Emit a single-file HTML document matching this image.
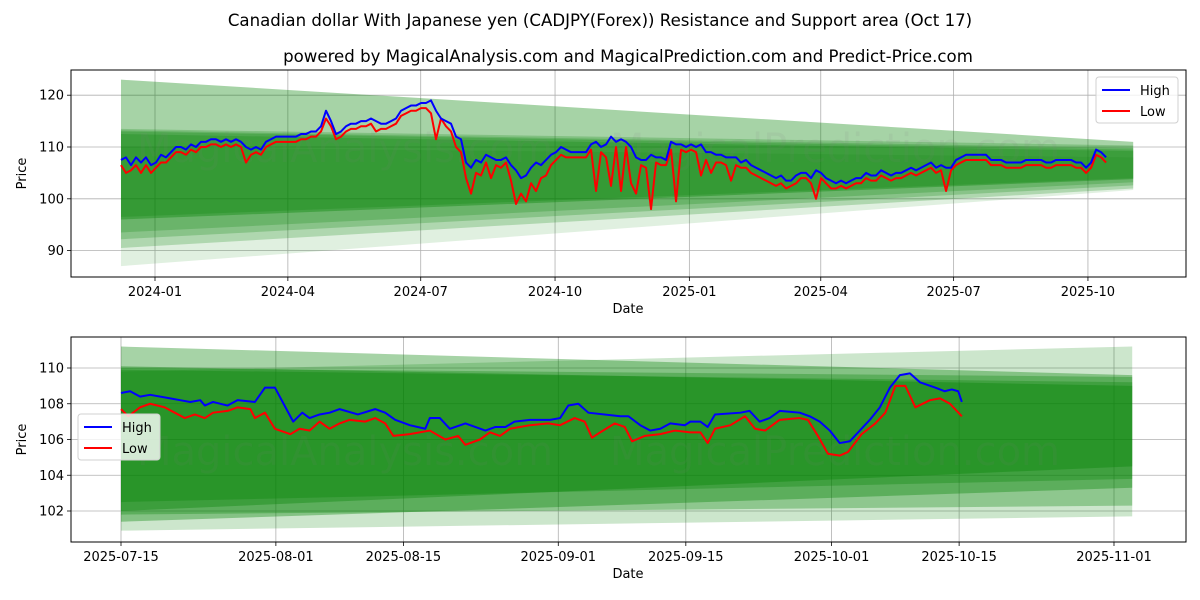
<!DOCTYPE html>
<html><head><meta charset="utf-8">
<style>
html,body{margin:0;padding:0;background:#fff;}
svg{display:block;font-family:"DejaVu Sans","Liberation Sans",sans-serif;}
</style></head>
<body>
<svg id="chart" width="1200" height="600" viewBox="0 0 1200 600" xmlns="http://www.w3.org/2000/svg">
<text x="600" y="26" font-size="16.6" text-anchor="middle">Canadian dollar With Japanese yen (CADJPY(Forex)) Resistance and Support area (Oct 17)</text>
<text x="628" y="62" font-size="16.6" text-anchor="middle">powered by MagicalAnalysis.com and MagicalPrediction.com and Predict-Price.com</text>
<g id="top"></g>
<g id="bot"></g>
</svg>
<script>
// ---------- TOP PANEL DATA ----------
const topStartDay = -23.3;   // days from 2024-01-01 of first sample
const topStepDays = 3.425;   // sampling interval in days
const topHigh = [
107.5,108,106.5,108,107,108,106.5,107,108.5,108,
109,110,110,109.5,110.5,110,111,111,111.5,111.5,
111,111.5,111,111.5,111,110,109.5,110,109.5,111,
111.5,112,112,112,112,112,112.5,112.5,113,113,
114,117,115,112.5,113,114,114.5,114.5,115,115,
115.5,115,114.5,114.5,115,115.5,117,117.5,118,118,
118.5,118.5,119,117,115.5,115,114.5,112,111.5,107,
106,107.5,107,108.5,108,107.5,107.5,108,106.5,105.5,
104,104.5,106,107,106.5,107.5,108.5,109,110,109.5,
109,109,109,109,110.5,111,110,110.5,112,111,
111.5,111,110,108,107.5,107.5,108.5,108,108,107.5,
111,110.5,110.5,110,110.5,110,110.5,109,109,108.5,
108.5,108,108,108,107,107.5,106.5,106,105.5,105,
104.5,104,104.5,103.5,103.5,104.5,105,105,104,105.5,
105,104,103.5,103,103.5,103,103.5,104,104,105,
104.5,104.5,105.5,105,104.5,105,105,105.5,106,105.5,
106,106.5,107,106,106.5,106,106,107.5,108,108.5,
108.5,108.5,108.5,108.5,107.5,107.5,107.5,107,107,107,
107,107.5,107.5,107.5,107.5,107,107,107.5,107.5,107.5,
107.5,107,107,106,107,109.5,109,108];
const topLow = [
106.5,105,105.5,106.5,105,106.5,105,106,107,107,
108,109,109,108.5,109.5,109,110,110,110.5,110.5,
110,110.5,110,110.5,110,107,108.5,109,108.5,110,
110.5,111,111,111,111,111,111.5,111.5,112,112,
113,115.5,114,111.5,112,113,113.5,113.5,114,114,
114.5,113,113.5,113.5,114,114.5,116,116.5,117,117,
117.5,117.5,116.5,111.5,115.5,114,113,110,109,104,
101,105,104.5,107,104,106.5,106,107,103.5,99,
101,99.5,103,101.5,104,104.5,106.5,107.5,108.5,108,
108,108,108,108,109.5,101.5,109,108,102.5,110,
101.5,110,103,101,106.5,106,98,107,106.5,106.5,
109.5,99.5,109.5,109,109.5,109,104.5,107.5,105,107,
107,106.5,103.5,106.5,106,106,105,104.5,104,103.5,
103,102.5,103,102,102.5,103,104,104,103,100,
104,103,102,102,102.5,102,102.5,103,103,104,
103.5,103.5,104.5,104,103.5,104,104,104.5,105,104.5,
105,105.5,106,105,105.5,101.5,105.5,106.5,107,107.5,
107.5,107.5,107.5,107.5,106.5,106.5,106.5,106,106,106,
106,106.5,106.5,106.5,106.5,106,106,106.5,106.5,106.5,
106.5,106,106,105,106,108.5,108,107];
const topBandStartDay = -23.3, topBandEndDay = 670;
const topBandTopStart = [123, 110, 113.5, 113.2, 113, 112.5];
const topBandTopEnd   = [111, 108, 110.3, 109.8, 109.5, 109.2];
const topBandBotStart = [96, 87, 90.5, 92.2, 93.5, 96.5];
const topBandBotEnd   = [103.8, 101.7, 102, 102.6, 103.2, 104];
const topBandAlpha    = [0.35, 0.12, 0.22, 0.22, 0.22, 0.22];
const topYTicks = [90, 100, 110, 120];
const topXTickDays = [0, 91, 182, 274, 366, 456, 547, 639];
const topXTickLabels = ["2024-01","2024-04","2024-07","2024-10","2025-01","2025-04","2025-07","2025-10"];

// ---------- BOTTOM PANEL DATA ----------
const botHighDays = [0,1,2.1,3.2,5.4,6.5,7.6,8.7,9.2,10.1,11.7,12.8,14.7,15.8,16.9,18.9,19.9,20.7,21.8,22.9,24,26,27.9,29,30.1,31.7,33.4,33.9,35,36.1,37.8,40,41.1,42.2,43.2,44.9,47.1,48.2,49.1,50.2,51.3,54.8,55.7,57,58.1,59.2,60.3,61.9,62.5,63.6,64.4,65.2,68,69,70.1,71.2,72.3,74.5,75.6,76.7,77.8,78.9,80,82.2,83.3,84.4,85.5,86.6,87.7,89.4,90.4,91.2,91.9,92.3];
const botHigh = [108.6,108.7,108.4,108.5,108.3,108.2,108.1,108.2,107.9,108.1,107.9,108.2,108.1,108.9,108.9,107.0,107.5,107.2,107.4,107.5,107.7,107.4,107.7,107.5,107.1,106.8,106.6,107.2,107.2,106.6,106.9,106.5,106.7,106.7,107.0,107.1,107.1,107.2,107.9,108.0,107.5,107.3,107.3,106.8,106.5,106.6,106.9,106.8,107.0,107.0,106.7,107.4,107.5,107.6,107.0,107.2,107.6,107.5,107.3,107.0,106.5,105.8,105.9,107.1,107.8,108.9,109.6,109.7,109.2,108.9,108.7,108.8,108.7,108.1];
const botLowDays = [0,0.8,2.1,3.2,4.8,5.9,7,8.1,9.2,10.1,11.7,12.8,14.2,14.7,15.8,16.9,18.6,19.6,20.7,21.8,22.9,24,25.1,26.8,27.9,29,29.9,31.7,33.9,35.6,37,37.8,39.4,40.5,41.6,42.7,44.9,46.9,48.2,49.8,50.9,51.7,52.6,54.2,55.3,56.1,57.5,59.2,60.8,62.5,63.6,64.4,65.2,66.9,68.5,69.6,70.7,72.3,74.5,75.4,76.5,77.6,78.9,79.8,81.3,82.8,83.9,85,86.1,87.2,88.8,89.9,91,92.3];
const botLow = [107.7,107.3,107.8,108.0,107.8,107.5,107.2,107.4,107.2,107.5,107.6,107.8,107.7,107.2,107.5,106.6,106.3,106.6,106.5,107.0,106.6,106.9,107.1,107.0,107.2,106.9,106.2,106.3,106.5,106.0,106.2,105.7,106.0,106.4,106.2,106.6,106.8,106.9,106.8,107.2,107.0,106.1,106.4,106.9,106.7,105.9,106.2,106.3,106.5,106.4,106.4,105.8,106.6,106.8,107.3,106.6,106.5,107.1,107.2,107.1,106.2,105.2,105.1,105.3,106.3,106.9,107.5,109.0,109.0,107.8,108.2,108.3,108.0,107.3];
const botBandStartDay = 0, botBandEndDay = 111;
const botBandTopStart = [111.2, 109.8, 110.1, 110.0, 109.9];
const botBandTopEnd   = [109.6, 111.2, 109.0, 109.5, 109.2];
const botBandBotStart = [101.4, 100.9, 102.0, 101.8, 102.5];
const botBandBotEnd   = [103.3, 101.7, 104.5, 102.3, 103.8];
const botBandAlpha    = [0.35, 0.2, 0.35, 0.3, 0.3];
const botYTicks = [102, 104, 106, 108, 110];
const botXTickDays = [0, 17, 31, 48, 62, 78, 92, 109];
const botXTickLabels = ["2025-07-15","2025-08-01","2025-08-15","2025-09-01","2025-09-15","2025-10-01","2025-10-15","2025-11-01"];

const NS = "http://www.w3.org/2000/svg";
function mk(parent, tag, attrs, text) {
  const e = document.createElementNS(NS, tag);
  for (const k in attrs) e.setAttribute(k, attrs[k]);
  if (text !== undefined) e.textContent = text;
  parent.appendChild(e);
  return e;
}

function drawPanel(g, cfg) {
  const L = 71, R = 1186, T = cfg.top, B = cfg.bottom;
  const xs = d => cfg.x0 + d * cfg.pxPerDay;
  const ys = v => cfg.yRef - (v - cfg.vRef) * cfg.pxPerUnit;
  const clip = mk(g, "clipPath", {id: cfg.id + "-clip"});
  mk(clip, "rect", {x: L, y: T, width: R - L, height: B - T});
  const plot = mk(g, "g", {"clip-path": "url(#" + cfg.id + "-clip)"});
  
  
  for (let i = 0; i < cfg.bTS.length; i++) {
    const x1 = xs(cfg.bStart), x2 = xs(cfg.bEnd);
    const p = mk(plot, "polygon", {
      points: `${x1},${ys(cfg.bTS[i])} ${x2},${ys(cfg.bTE[i])} ${x2},${ys(cfg.bBE[i])} ${x1},${ys(cfg.bBS[i])}`,
      fill: "#008000", "fill-opacity": cfg.bA[i]
    });
    
    
  }
  cfg.marks.forEach(m => {
    const t = mk(plot, "text", {x: m[0], y: m[1], "font-size": 40, fill: "#808080", "fill-opacity": 0.1, "text-anchor": "middle"}, m[2]);
    
    
  });
  cfg.yTicks.forEach(v => {
    const l = mk(g, "line", {x1: L, x2: R, y1: ys(v), y2: ys(v), stroke: "#b0b0b0", "stroke-width": 0.8});
    
    
    mk(g, "line", {x1: L - 4, x2: L, y1: ys(v), y2: ys(v), stroke: "#000", "stroke-width": 0.8});
    const t = mk(g, "text", {x: L - 7, y: ys(v) + 4.5, "font-size": 13, "text-anchor": "end"}, String(v));
    
    
  });
  cfg.xTicks.forEach((d, i) => {
    const x = xs(d);
    const l = mk(g, "line", {x1: x, x2: x, y1: T, y2: B, stroke: "#b0b0b0", "stroke-width": 0.8});
    
    
    mk(g, "line", {x1: x, x2: x, y1: B, y2: B + 4, stroke: "#000", "stroke-width": 0.8});
    const t = mk(g, "text", {x: x, y: B + 19, "font-size": 13, "text-anchor": "middle"}, cfg.xLabels[i]);
    
    
  });
  const hp = cfg.hDays.map((d, i) => xs(d) + "," + ys(cfg.hVals[i])).join(" ");
  const lp = cfg.lDays.map((d, i) => xs(d) + "," + ys(cfg.lVals[i])).join(" ");
  const ll = mk(plot, "polyline", {points: lp, fill: "none", stroke: "#ff0000", "stroke-width": 2, "stroke-linejoin": "round"});
  
  
  const hl = mk(plot, "polyline", {points: hp, fill: "none", stroke: "#0000ff", "stroke-width": 2, "stroke-linejoin": "round"});
  
  
  g.insertBefore(hl.parentNode, null);
  const fr = mk(g, "rect", {x: L, y: T, width: R - L, height: B - T, fill: "none", stroke: "#000", "stroke-width": 1});
  
  
  const yl = mk(g, "text", {x: 0, y: 0, "font-size": 13, "text-anchor": "middle", transform: `translate(26,${(T + B) / 2}) rotate(-90)`}, "Price");
  
  
  const xl = mk(g, "text", {x: 628, y: B + 36, "font-size": 13, "text-anchor": "middle"}, "Date");
  
  
  const lg = mk(g, "g", {});
  
  
  const [lx, ly] = cfg.legend;
  mk(lg, "rect", {x: lx, y: ly, width: 82, height: 46, rx: 3, fill: "#fff", "fill-opacity": 0.8, stroke: "#d0d0d0"});
  mk(lg, "line", {x1: lx + 6, x2: lx + 34, y1: ly + 13, y2: ly + 13, stroke: "#0000ff", "stroke-width": 2});
  const t1 = mk(lg, "text", {x: lx + 44, y: ly + 18, "font-size": 13}, "High");
  
  
  mk(lg, "line", {x1: lx + 6, x2: lx + 34, y1: ly + 34, y2: ly + 34, stroke: "#ff0000", "stroke-width": 2});
  const t2 = mk(lg, "text", {x: lx + 44, y: ly + 39, "font-size": 13}, "Low");
  
  
}

const topDays = topHigh.map((_, i) => topStartDay + i * topStepDays);
drawPanel(document.getElementById("top"), {
  id: "top", top: 70, bottom: 277,
  x0: 155, pxPerDay: 1.46, yRef: 147, vRef: 110, pxPerUnit: 5.18,
  bStart: topBandStartDay, bEnd: topBandEndDay,
  bTS: topBandTopStart, bTE: topBandTopEnd, bBS: topBandBotStart, bBE: topBandBotEnd, bA: topBandAlpha,
  yTicks: topYTicks, xTicks: topXTickDays, xLabels: topXTickLabels,
  hDays: topDays, hVals: topHigh, lDays: topDays, lVals: topLow,
  legend: [1096, 77],
  marks: [[345, 162, "MagicalAnalysis.com"], [835, 162, "MagicalPrediction.com"], [345, 314, "MagicalAnalysis.com"], [835, 314, "MagicalPrediction.com"]]
});
drawPanel(document.getElementById("bot"), {
  id: "bot", top: 337, bottom: 542,
  x0: 121, pxPerDay: 9.11, yRef: 368, vRef: 110, pxPerUnit: 17.875,
  bStart: botBandStartDay, bEnd: botBandEndDay,
  bTS: botBandTopStart, bTE: botBandTopEnd, bBS: botBandBotStart, bBE: botBandBotEnd, bA: botBandAlpha,
  yTicks: botYTicks, xTicks: botXTickDays, xLabels: botXTickLabels,
  hDays: botHighDays, hVals: botHigh, lDays: botLowDays, lVals: botLow,
  legend: [78, 414],
  marks: [[345, 465, "MagicalAnalysis.com"], [835, 465, "MagicalPrediction.com"]]
});
</script>
</body></html>
